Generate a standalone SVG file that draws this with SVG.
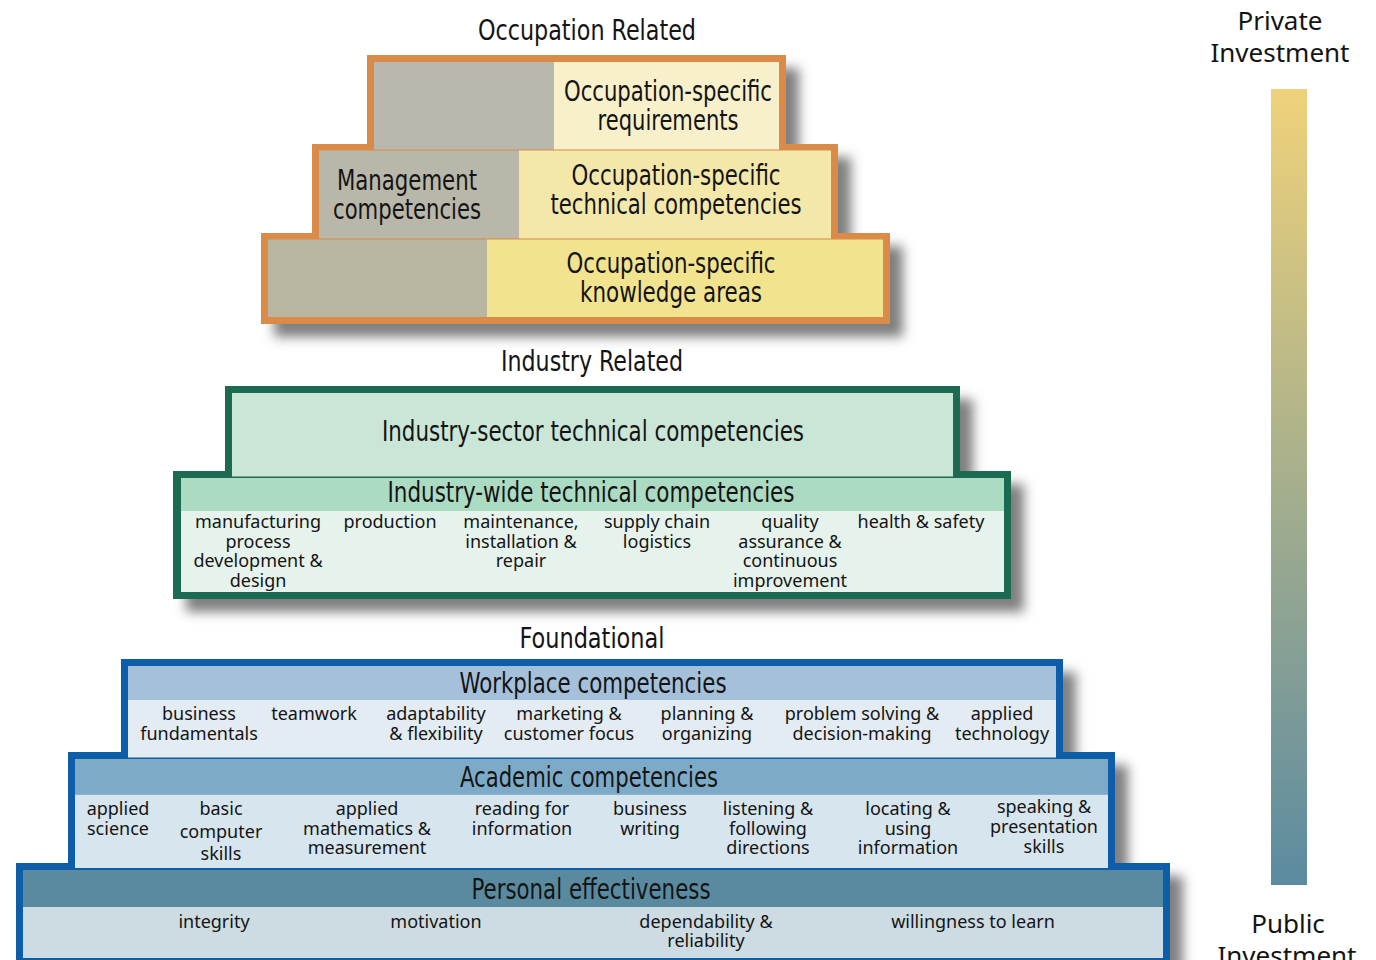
<svg xmlns="http://www.w3.org/2000/svg" width="1376" height="960" viewBox="0 0 1376 960">
  <style>
    .ttl { font-family: "Liberation Sans Narrow", "DejaVu Sans Condensed", "Liberation Sans", sans-serif; font-size: 28px; fill: #141414; text-anchor: middle; }
    .lbl { font-family: "Noto Sans", "Open Sans", sans-serif; font-size: 18px; fill: #141414; text-anchor: middle; }
    .side { font-family: "Noto Sans", "Open Sans", sans-serif; font-size: 26px; fill: #141414; text-anchor: middle; }
    .occ-border { fill: #D98B47; }
    .ind-border { fill: #1B6A51; }
    .fnd-border { fill: #0B5DA8; }
  </style>
  <defs>
    <filter id="shadow" x="-5%" y="-10%" width="115%" height="130%">
      <feDropShadow dx="13" dy="13" stdDeviation="6" flood-color="#555" flood-opacity="0.75"/>
    </filter>
    <linearGradient id="investGrad" x1="0" y1="0" x2="0" y2="1">
      <stop offset="0" stop-color="#EFD27A"/>
      <stop offset="1" stop-color="#5B8BA0"/>
    </linearGradient>
  </defs>

  <rect width="1376" height="960" fill="#FFFFFF"/>

  <!-- Occupation related tiers -->
  <g id="occupation-related">
    <text class="ttl" x="587" y="40" textLength="218" lengthAdjust="spacingAndGlyphs">Occupation Related</text>
    <polygon class="occ-border" filter="url(#shadow)" points="367,55 786,55 786,144 838,144 838,233 890,233 890,324 261,324 261,233 312,233 312,144 367,144"/>
    <g id="occ-tier1">
      <rect x="374" y="62" width="180" height="87.5" fill="#B9B8AF"/>
      <rect x="554" y="62" width="225" height="87.5" fill="#F7F0CB"/>
      <text class="ttl" x="668" y="101" textLength="208" lengthAdjust="spacingAndGlyphs">Occupation-specific</text>
      <text class="ttl" x="668" y="130" textLength="141" lengthAdjust="spacingAndGlyphs">requirements</text>
    </g>
    <g id="occ-tier2">
      <rect x="319" y="150.5" width="200" height="88" fill="#B9B7AA"/>
      <rect x="519" y="150.5" width="312" height="88" fill="#F3E8AA"/>
      <text class="ttl" x="407" y="190" textLength="140" lengthAdjust="spacingAndGlyphs">Management</text>
      <text class="ttl" x="407" y="219" textLength="148" lengthAdjust="spacingAndGlyphs">competencies</text>
      <text class="ttl" x="676" y="185" textLength="209" lengthAdjust="spacingAndGlyphs">Occupation-specific</text>
      <text class="ttl" x="676" y="214" textLength="251" lengthAdjust="spacingAndGlyphs">technical competencies</text>
    </g>
    <g id="occ-tier3">
      <rect x="268" y="239.5" width="219" height="77.5" fill="#B8B6A0"/>
      <rect x="487" y="239.5" width="396" height="77.5" fill="#F2E38F"/>
      <text class="ttl" x="671" y="273" textLength="209" lengthAdjust="spacingAndGlyphs">Occupation-specific</text>
      <text class="ttl" x="671" y="302" textLength="182" lengthAdjust="spacingAndGlyphs">knowledge areas</text>
    </g>
  </g>

  <!-- Industry related tiers -->
  <g id="industry-related">
    <text class="ttl" x="592" y="371" textLength="182" lengthAdjust="spacingAndGlyphs">Industry Related</text>
    <polygon class="ind-border" filter="url(#shadow)" points="225,386 960,386 960,471 1011,471 1011,599 173,599 173,471 225,471"/>
    <g id="industry-sector">
      <rect x="232" y="393" width="721" height="83.5" fill="#C9E6D7"/>
      <text class="ttl" x="593" y="441" textLength="422" lengthAdjust="spacingAndGlyphs">Industry-sector technical competencies</text>
    </g>
    <g id="industry-wide">
      <rect x="181" y="478" width="823" height="33" fill="#ABDBC2"/>
      <rect x="181" y="511" width="823" height="81" fill="#E6F3EC"/>
      <text class="ttl" x="591" y="502" textLength="407" lengthAdjust="spacingAndGlyphs">Industry-wide technical competencies</text>
      <text class="lbl" x="258" y="528">manufacturing</text>
      <text class="lbl" x="258" y="547.5">process</text>
      <text class="lbl" x="258" y="567">development &amp;</text>
      <text class="lbl" x="258" y="586.5">design</text>
      <text class="lbl" x="390" y="528">production</text>
      <text class="lbl" x="521" y="528">maintenance,</text>
      <text class="lbl" x="521" y="547.5">installation &amp;</text>
      <text class="lbl" x="521" y="567">repair</text>
      <text class="lbl" x="657" y="528">supply chain</text>
      <text class="lbl" x="657" y="547.5">logistics</text>
      <text class="lbl" x="790" y="528">quality</text>
      <text class="lbl" x="790" y="547.5">assurance &amp;</text>
      <text class="lbl" x="790" y="567">continuous</text>
      <text class="lbl" x="790" y="586.5">improvement</text>
      <text class="lbl" x="921" y="528">health &amp; safety</text>
    </g>
  </g>

  <!-- Foundational tiers -->
  <g id="foundational">
    <text class="ttl" x="592" y="648" textLength="145" lengthAdjust="spacingAndGlyphs">Foundational</text>
    <polygon class="fnd-border" filter="url(#shadow)" points="121,659 1063,659 1063,752 1115,752 1115,863 1170,863 1170,966 16,966 16,863 68,863 68,752 121,752"/>
    <g id="workplace">
      <rect x="128" y="666" width="928" height="34" fill="#A5C0DB"/>
      <rect x="128" y="700" width="928" height="57.5" fill="#E3EBF3"/>
      <text class="ttl" x="593" y="693" textLength="267" lengthAdjust="spacingAndGlyphs">Workplace competencies</text>
      <text class="lbl" x="199" y="720">business</text>
      <text class="lbl" x="199" y="740">fundamentals</text>
      <text class="lbl" x="314" y="720">teamwork</text>
      <text class="lbl" x="436" y="720">adaptability</text>
      <text class="lbl" x="436" y="740">&amp; flexibility</text>
      <text class="lbl" x="569" y="720">marketing &amp;</text>
      <text class="lbl" x="569" y="740">customer focus</text>
      <text class="lbl" x="707" y="720">planning &amp;</text>
      <text class="lbl" x="707" y="740">organizing</text>
      <text class="lbl" x="862" y="720">problem solving &amp;</text>
      <text class="lbl" x="862" y="740">decision-making</text>
      <text class="lbl" x="1002" y="720">applied</text>
      <text class="lbl" x="1002" y="740">technology</text>
    </g>
    <g id="academic">
      <rect x="75" y="759" width="1033" height="35.5" fill="#7DABC7"/>
      <rect x="75" y="794.5" width="1033" height="73.5" fill="#D6E5EE"/>
      <text class="ttl" x="589" y="787" textLength="258" lengthAdjust="spacingAndGlyphs">Academic competencies</text>
      <text class="lbl" x="118" y="815">applied</text>
      <text class="lbl" x="118" y="835">science</text>
      <text class="lbl" x="221" y="815">basic</text>
      <text class="lbl" x="221" y="838">computer</text>
      <text class="lbl" x="221" y="860">skills</text>
      <text class="lbl" x="367" y="815">applied</text>
      <text class="lbl" x="367" y="835">mathematics &amp;</text>
      <text class="lbl" x="367" y="854">measurement</text>
      <text class="lbl" x="522" y="815">reading for</text>
      <text class="lbl" x="522" y="835">information</text>
      <text class="lbl" x="650" y="815">business</text>
      <text class="lbl" x="650" y="835">writing</text>
      <text class="lbl" x="768" y="815">listening &amp;</text>
      <text class="lbl" x="768" y="835">following</text>
      <text class="lbl" x="768" y="854">directions</text>
      <text class="lbl" x="908" y="815">locating &amp;</text>
      <text class="lbl" x="908" y="835">using</text>
      <text class="lbl" x="908" y="854">information</text>
      <text class="lbl" x="1044" y="813">speaking &amp;</text>
      <text class="lbl" x="1044" y="833">presentation</text>
      <text class="lbl" x="1044" y="853">skills</text>
    </g>
    <g id="personal">
      <rect x="23" y="870" width="1140" height="37" fill="#5A8AA0"/>
      <rect x="23" y="907" width="1140" height="51" fill="#CDDBE2"/>
      <text class="ttl" x="591" y="899" textLength="239" lengthAdjust="spacingAndGlyphs">Personal effectiveness</text>
      <text class="lbl" x="214" y="928">integrity</text>
      <text class="lbl" x="436" y="928">motivation</text>
      <text class="lbl" x="706" y="928">dependability &amp;</text>
      <text class="lbl" x="706" y="947">reliability</text>
      <text class="lbl" x="973" y="928">willingness to learn</text>
    </g>
  </g>

  <!-- Investment scale -->
  <g id="investment-scale">
    <text class="side" x="1280" y="30">Private</text>
    <text class="side" x="1280" y="62">Investment</text>
    <rect x="1271" y="89" width="36" height="796" fill="url(#investGrad)"/>
    <text class="side" x="1288" y="933">Public</text>
    <text class="side" x="1287" y="965">Investment</text>
  </g>
</svg>
